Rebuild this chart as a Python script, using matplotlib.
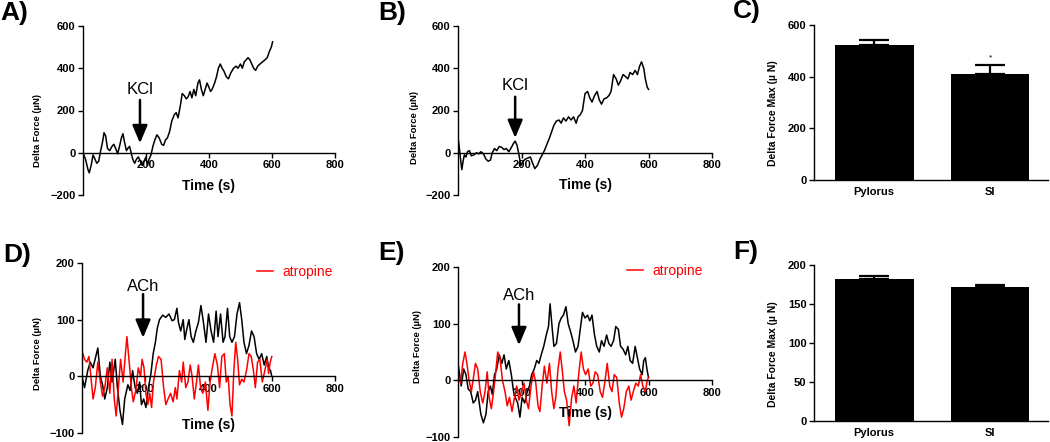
"""Force traces (KCl / ACh) and max force bar charts, six panels."""
import matplotlib
matplotlib.use("Agg")
import matplotlib.pyplot as plt
from matplotlib.transforms import blended_transform_factory

plt.rcParams["font.family"] = ["Liberation Sans", "DejaVu Sans"]

# ---- data ----
# A) KCl, pylorus
a_time = [0, 8, 16, 20, 26, 32, 38, 44, 50, 55, 62, 67, 72, 78, 85, 92, 98, 104, 110, 116,
          122, 127, 132, 138, 142, 148, 153, 158, 164, 170, 176, 182, 188, 194, 200, 205, 210, 216, 222, 228,
          235, 242, 250, 256, 262, 268, 275, 282, 290, 296, 302, 310, 315, 322, 328, 334, 340, 346, 352, 358,
          365, 370, 376, 382, 388, 394, 400, 405, 410, 418, 424, 430, 436, 442, 448, 455, 462, 470, 478, 486,
          492, 500, 506, 512, 518, 524, 530, 536, 542, 548, 555, 562, 570, 578, 585, 592, 598, 602]
a_force = [0, -30, -80, -95, -60, -10, -30, -50, -40, 0, 50, 95, 80, 20, 10, 30, 40, 20, -5, 30,
           70, 90, 50, 10, 20, 30, 0, -30, -50, -30, -20, -40, -60, -40, -20, -60, -30, -10, 30, 60,
           85, 70, 40, 35, 60, 70, 100, 150, 180, 190, 165, 230, 280, 270, 255, 265, 290, 260, 300, 270,
           330, 345, 300, 270, 300, 330, 310, 290, 300, 330, 360, 400, 420, 400, 385, 360, 350, 380, 400, 410,
           400, 420, 400, 430, 440, 450, 440, 420, 400, 390, 410, 420, 430, 440, 450, 480, 500, 525]

# B) KCl, small intestine
b_time = [0, 3, 8, 12, 16, 20, 25, 30, 36, 42, 50, 58, 65, 72, 80, 88, 95, 102, 108, 115,
          122, 130, 138, 145, 152, 160, 168, 175, 180, 186, 192, 198, 205, 212, 220, 228, 235, 242, 250, 258,
          265, 272, 280, 288, 295, 302, 310, 318, 325, 332, 340, 348, 356, 364, 372, 378, 385, 392, 400, 408,
          415, 422, 430, 438, 445, 452, 460, 468, 475, 482, 490, 498, 505, 512, 520, 528, 535, 542, 550, 558,
          565, 572, 578, 585, 590, 596, 600]
b_force = [70, 40, -30, -80, -40, -10, -20, 5, 10, -15, -10, 0, -5, 5, -5, -30, -40, -35, 0, 20,
           10, 30, 25, 15, 20, 5, 25, 45, 55, 35, -10, -60, -40, -30, -25, -20, -50, -75, -60, -30,
           -10, 10, 40, 70, 100, 130, 150, 155, 140, 165, 150, 170, 155, 170, 140, 170, 180, 200, 280, 290,
           260, 240, 270, 290, 250, 230, 255, 260, 270, 290, 370, 350, 320, 340, 370, 360, 350, 380, 370, 390,
           370, 410, 430, 400, 350, 310, 300]

# D) ACh, pylorus: control (black) and atropine (red)
d_time = [0, 8, 18, 26, 35, 50, 58, 65, 72, 80, 88, 95, 105, 112, 120, 128, 135, 145, 152, 160,
          168, 175, 182, 188, 195, 202, 210, 218, 225, 232, 238, 245, 255, 265, 275, 285, 292, 300, 305, 312,
          320, 325, 330, 338, 345, 352, 360, 368, 376, 384, 392, 400, 408, 416, 424, 430, 438, 446, 452, 460,
          467, 474, 482, 490, 498, 505, 512, 520, 528, 536, 544, 552, 560, 568, 576, 584, 590, 596, 600]
d_force = [0, -20, 10, 25, 15, 50, 0, -15, -40, -20, 25, -10, 30, -20, -60, -85, -40, -15, -25, 10,
           -20, -30, -10, -50, -40, -55, -20, 5, 40, 60, 85, 100, 108, 104, 110, 98, 100, 120, 95, 80,
           100, 65, 80, 100, 70, 60, 80, 95, 125, 95, 60, 110, 80, 60, 115, 70, 110, 60, 70, 120,
           70, 60, 70, 110, 130, 100, 60, 40, 55, 80, 70, 40, 30, 40, 20, 35, 15, 10, 0]
d_atr_time = [0, 8, 15, 22, 28, 35, 42, 50, 58, 65, 72, 80, 88, 95, 102, 108, 115, 122, 130, 138,
              142, 150, 156, 162, 170, 178, 185, 190, 196, 202, 208, 214, 220, 226, 235, 242, 250, 258, 265, 272,
              280, 288, 295, 300, 308, 315, 320, 328, 335, 342, 348, 355, 362, 368, 375, 382, 390, 398, 405, 412,
              420, 428, 435, 442, 450, 456, 462, 468, 474, 480, 486, 492, 498, 505, 512, 520, 528, 535, 542, 548,
              555, 562, 570, 578, 585, 590, 595, 600]
d_atr_force = [45, 30, 25, 35, 0, -40, -20, 25, -10, -35, -20, 15, -30, 30, -40, -70, -20, 30, -10, 45,
               70, 20, -20, -45, -25, 15, 0, 30, 15, -30, -50, -30, -55, -10, 20, 35, 30, -20, -50, -40,
               -30, -45, -20, -40, 10, -10, 25, -20, -10, 20, 0, -40, -10, 20, -20, -30, -10, -60, -10, 15,
               40, 20, -20, 35, 40, -10, 0, -50, -70, 10, 60, 30, -15, -5, -10, 10, 40, 35, 10, -20,
               25, 30, -10, 10, 30, 5, 25, 35]

# E) ACh, small intestine: control (black) and atropine (red)
e_time = [0, 10, 18, 25, 32, 40, 48, 55, 62, 72, 80, 88, 95, 102, 108, 115, 122, 130, 138, 145,
          152, 160, 168, 175, 180, 188, 195, 202, 210, 218, 225, 232, 240, 248, 255, 262, 270, 278, 285, 290,
          297, 302, 310, 318, 325, 332, 340, 347, 355, 362, 370, 378, 385, 392, 400, 408, 415, 422, 430, 437,
          445, 452, 460, 468, 475, 482, 490, 497, 505, 512, 520, 528, 535, 542, 550, 558, 565, 572, 580, 585,
          590, 595, 600]
e_force = [30, -10, 20, 10, -15, -20, -40, -35, -20, -60, -75, -60, -20, -10, -25, 10, 20, 45, 30, 45,
           20, 35, 10, -20, -30, -40, -65, -30, -40, -20, -10, 10, 20, 35, 30, 45, 60, 80, 95, 135,
           90, 60, 65, 100, 110, 115, 130, 100, 85, 70, 50, 60, 90, 120, 110, 115, 105, 115, 80, 60,
           50, 70, 60, 80, 65, 60, 70, 95, 90, 60, 55, 45, 60, 35, 30, 60, 40, 20, 10, 35,
           40, 20, 5]
e_atr_time = [0, 8, 15, 22, 28, 35, 42, 50, 55, 62, 70, 78, 85, 92, 98, 105, 112, 118, 125, 132,
              140, 148, 155, 162, 170, 178, 185, 192, 200, 208, 215, 222, 230, 238, 245, 252, 258, 265, 272, 280,
              288, 295, 302, 308, 315, 322, 328, 335, 342, 350, 358, 365, 372, 380, 388, 395, 402, 410, 418, 425,
              432, 440, 448, 455, 462, 470, 478, 485, 492, 500, 508, 515, 522, 530, 538, 545, 552, 560, 568, 575,
              582, 590, 596, 600]
e_atr_force = [10, -5, 30, 50, 30, 0, -20, 10, 30, 20, -20, -40, -20, 15, -30, -50, -20, 10, 50, 40,
               0, -20, -45, -30, -55, -30, -10, -35, -20, -5, -35, -50, -10, 15, -5, -45, -55, -10, 25, -5,
               30, -20, -50, -30, 20, 50, 20, -20, -35, -80, -30, -10, -40, 10, 50, 20, 10, 20, -10, -5,
               15, 10, -20, -30, -5, 30, -10, -20, 10, 5, -40, -65, -50, -20, -10, -35, -20, -5, -10, 10,
               -10, -20, 0, 5]

# C) / F) maximum force, mean and SEM
regions = ["Pylorus", "SI"]
kcl_max = [521, 411]
kcl_sem = [21, 34]
ach_max = [182, 172]
ach_sem = [4, 2]

BOLD = dict(fontweight="bold")


def style_trace(ax, ylim, yticks):
    ax.set_xlim(0, 800)
    ax.set_ylim(*ylim)
    ax.set_xticks([200, 400, 600, 800])
    ax.set_yticks(yticks)
    for side in ("top", "right"):
        ax.spines[side].set_visible(False)
    ax.spines["bottom"].set_position(("data", 0))
    for side in ("left", "bottom"):
        ax.spines[side].set_linewidth(1.0)
    ax.tick_params(direction="out", length=3.8, width=1.0, labelsize=8, pad=1.5)
    for lbl in ax.get_xticklabels() + ax.get_yticklabels():
        lbl.set_fontweight("bold")
    ax.set_axisbelow(True)
    ax.patch.set_alpha(0)


def add_labels(ax, ylab_xy, time_y):
    ax.text(ylab_xy[0], ylab_xy[1], "Delta Force (\u00b5N)", transform=ax.transAxes,
            rotation=90, ha="center", va="center", fontsize=6.8, **BOLD)
    tr = blended_transform_factory(ax.transAxes, ax.transData)
    ax.text(0.5, time_y, "Time (s)", transform=tr, ha="center", va="center",
            fontsize=10, **BOLD)


def add_arrow(ax, label, x, text_y, start_y, tip_y):
    ax.annotate("", xy=(x, tip_y), xytext=(x, start_y),
                arrowprops=dict(arrowstyle="-|>,head_length=0.9,head_width=0.38",
                                lw=1.8, color="black", mutation_scale=12,
                                shrinkA=0, shrinkB=0))
    ax.text(x, text_y, label, ha="center", va="center", fontsize=12)


def style_bar(ax, ylim, yticks):
    ax.set_xlim(-0.52, 1.5)
    ax.set_ylim(*ylim)
    ax.set_yticks(yticks)
    ax.set_xticks([0, 1])
    ax.set_xticklabels(regions)
    for side in ("top", "right"):
        ax.spines[side].set_visible(False)
    for side in ("left", "bottom"):
        ax.spines[side].set_linewidth(1.0)
    ax.tick_params(axis="y", direction="out", length=3.8, width=1.0, labelsize=8, pad=1.5)
    ax.tick_params(axis="x", length=0, labelsize=8, pad=5)
    for lbl in ax.get_xticklabels() + ax.get_yticklabels():
        lbl.set_fontweight("bold")
    ax.text(-0.175, 0.43, "Delta Force Max (\u00b5 N)", transform=ax.transAxes,
            rotation=90, ha="center", va="center", fontsize=7.5, **BOLD)


def draw_bars(ax, means, sems):
    x = list(range(len(means)))
    ax.bar(x, means, width=0.68, color="black", zorder=2)
    ax.errorbar(x, means, yerr=[[0] * len(sems), sems], fmt="none", ecolor="black",
                elinewidth=1.6, capsize=11, capthick=1.6, zorder=1)


fig = plt.figure(figsize=(10.5, 4.42), dpi=100)

ax_a = fig.add_axes([0.0790, 0.5588, 0.2400, 0.3824])
ax_b = fig.add_axes([0.4362, 0.5588, 0.2419, 0.3824])
ax_c = fig.add_axes([0.7752, 0.5928, 0.2229, 0.3507])
ax_d = fig.add_axes([0.0781, 0.0204, 0.2410, 0.3846])
ax_e = fig.add_axes([0.4362, 0.0113, 0.2419, 0.3846])
ax_f = fig.add_axes([0.7752, 0.0475, 0.2229, 0.3529])

# A
ax_a.plot(a_time, a_force, color="black", lw=1.1)
style_trace(ax_a, (-200, 600), [-200, 0, 200, 400, 600])
add_labels(ax_a, (-0.18, 0.38), -156)
add_arrow(ax_a, "KCl", 181, 298, 250, 45)

# B
ax_b.plot(b_time, b_force, color="black", lw=1.1)
style_trace(ax_b, (-200, 600), [-200, 0, 200, 400, 600])
add_labels(ax_b, (-0.17, 0.40), -151)
add_arrow(ax_b, "KCl", 180, 317, 265, 70)

# C
draw_bars(ax_c, kcl_max, kcl_sem)
style_bar(ax_c, (0, 600), [0, 200, 400, 600])
ax_c.text(1, kcl_max[1] + kcl_sem[1] + 28, "*", ha="center", va="center", fontsize=6)

# D
ax_d.plot(d_time, d_force, color="black", lw=1.1)
ax_d.plot(d_atr_time, d_atr_force, color="#ff0000", lw=1.1, label="atropine")
style_trace(ax_d, (-100, 200), [-100, 0, 100, 200])
add_labels(ax_d, (-0.174, 0.47), -86)
add_arrow(ax_d, "ACh", 193, 159, 145, 68)
ax_d.legend(loc="center left", bbox_to_anchor=(0.69, 0.947), frameon=False, fontsize=10,
            handlelength=1.15, handletextpad=0.7, borderpad=0, borderaxespad=0, labelcolor="#ff0000")

# E
ax_e.plot(e_time, e_force, color="black", lw=1.1)
ax_e.plot(e_atr_time, e_atr_force, color="#ff0000", lw=1.1, label="atropine")
style_trace(ax_e, (-100, 200), [-100, 0, 100, 200])
add_labels(ax_e, (-0.16, 0.53), -58)
add_arrow(ax_e, "ACh", 192, 150, 134, 62)
ax_e.legend(loc="center left", bbox_to_anchor=(0.665, 0.976), frameon=False, fontsize=10,
            handlelength=1.15, handletextpad=0.7, borderpad=0, borderaxespad=0, labelcolor="#ff0000")

# F
draw_bars(ax_f, ach_max, ach_sem)
style_bar(ax_f, (0, 200), [0, 50, 100, 150, 200])

# panel letters
for letter, px, py in [("A)", 0, 13), ("B)", 378, 13), ("C)", 733, 11),
                       ("D)", 3, 255), ("E)", 378, 253), ("F)", 733, 252)]:
    fig.text(px / 1050, 1 - py / 442, letter, ha="left", va="center", fontsize=19, **BOLD)

fig.savefig("out.png", dpi=100)
